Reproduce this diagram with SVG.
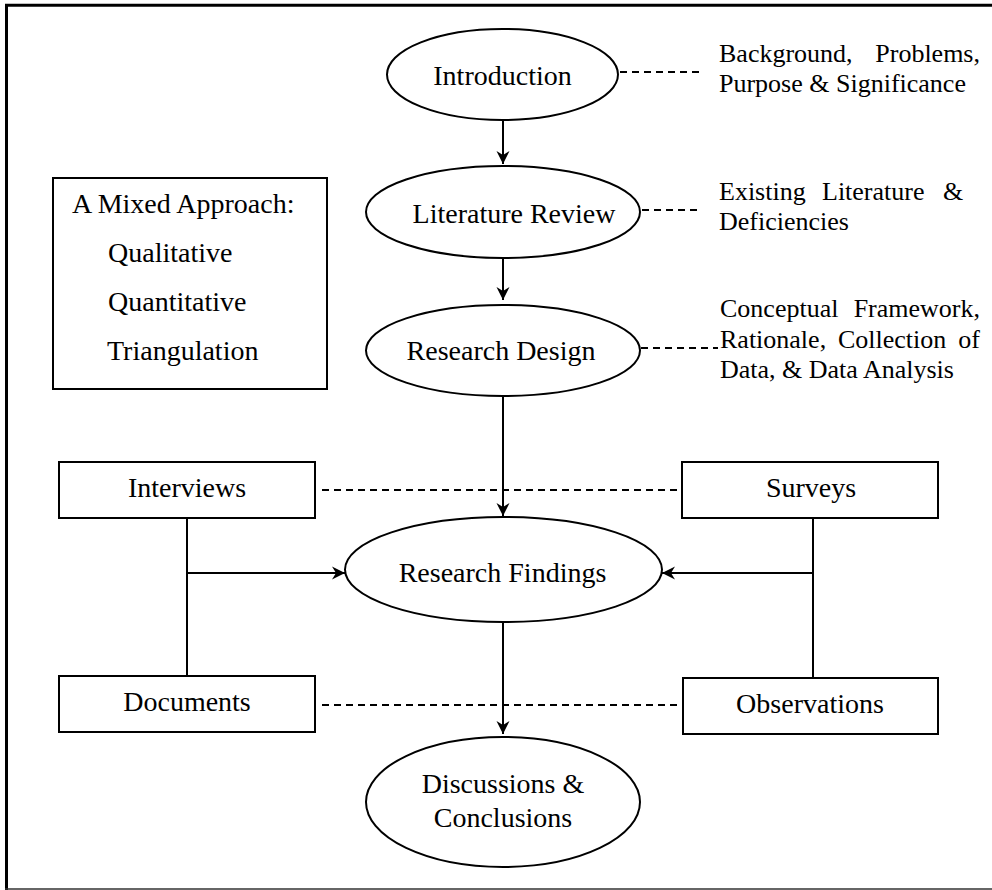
<svg xmlns="http://www.w3.org/2000/svg" width="992" height="890" viewBox="0 0 992 890">
  <defs>
    <style>
      text { font-family: "Liberation Serif", "Times New Roman", serif; fill: #000; }
      .node { font-size: 28px; text-anchor: middle; }
      .note { font-size: 26px; }
      .shape { fill: #fff; stroke: #000; stroke-width: 2; }
      .flow { stroke: #000; stroke-width: 2; fill: none; }
      .link { stroke: #000; stroke-width: 1.8; fill: none; stroke-dasharray: 7 5; }
    </style>
    <marker id="arrow" viewBox="-14 -7 15 14" refX="0" refY="0" markerWidth="15" markerHeight="14" markerUnits="userSpaceOnUse" orient="auto">
      <path d="M0,0 L-13,-6.5 L-9,0 L-13,6.5 Z" fill="#000"/>
    </marker>
  </defs>

  <rect width="992" height="890" fill="#fff"/>

  <!-- page frame -->
  <g id="frame">
    <line x1="5" y1="5.3" x2="992" y2="5.3" stroke="#000" stroke-width="3"/>
    <line x1="6.5" y1="4" x2="6.5" y2="890" stroke="#000" stroke-width="3"/>
    <line x1="5" y1="889" x2="992" y2="889" stroke="#333" stroke-width="1.5"/>
  </g>

  <!-- connectors -->
  <g id="connectors">
    <line class="flow" x1="503" y1="120" x2="503" y2="164" marker-end="url(#arrow)"/>
    <line class="flow" x1="503" y1="258" x2="503" y2="300" marker-end="url(#arrow)"/>
    <line class="flow" x1="503" y1="396" x2="503" y2="516" marker-end="url(#arrow)"/>
    <line class="flow" x1="503" y1="622" x2="503" y2="734" marker-end="url(#arrow)"/>
    <polyline class="flow" points="187,518 187,676"/>
    <polyline class="flow" points="813,518 813,678"/>
    <line class="flow" x1="187" y1="573" x2="345" y2="573" marker-end="url(#arrow)"/>
    <line class="flow" x1="813" y1="573" x2="662" y2="573" marker-end="url(#arrow)"/>
    <line class="link" x1="620" y1="72" x2="703" y2="72"/>
    <line class="link" x1="642" y1="210" x2="702" y2="210"/>
    <line class="link" x1="641" y1="348" x2="718" y2="348"/>
    <line class="link" x1="322" y1="490" x2="682" y2="490"/>
    <line class="link" x1="322" y1="705" x2="683" y2="705"/>
  </g>

  <g id="approach">
    <rect class="shape" x="53" y="178" width="274" height="211"/>
    <text x="72" y="213" font-size="28">A Mixed Approach:</text>
    <text x="108" y="262" font-size="28">Qualitative</text>
    <text x="108" y="311" font-size="28">Quantitative</text>
    <text x="107" y="360" font-size="28">Triangulation</text>
  </g>

  <g id="introduction">
    <ellipse class="shape" cx="502.5" cy="74.5" rx="115.5" ry="45.5"/>
    <text class="node" x="502.5" y="85">Introduction</text>
  </g>

  <g id="literature-review">
    <ellipse class="shape" cx="503" cy="212" rx="137" ry="46"/>
    <text class="node" x="514" y="223">Literature Review</text>
  </g>

  <g id="research-design">
    <ellipse class="shape" cx="503" cy="350.5" rx="137" ry="45.5"/>
    <text class="node" x="501" y="360">Research Design</text>
  </g>

  <g id="research-findings">
    <ellipse class="shape" cx="503.5" cy="569.5" rx="158.5" ry="52.5"/>
    <text class="node" x="502.5" y="582">Research Findings</text>
  </g>

  <g id="discussions">
    <ellipse class="shape" cx="503" cy="802" rx="137" ry="65"/>
    <text class="node" x="503" y="793">Discussions &amp;</text>
    <text class="node" x="503" y="827">Conclusions</text>
  </g>

  <g id="interviews">
    <rect class="shape" x="59" y="462" width="256" height="56"/>
    <text class="node" x="187" y="497">Interviews</text>
  </g>

  <g id="surveys">
    <rect class="shape" x="682" y="462" width="256" height="56"/>
    <text class="node" x="811" y="497">Surveys</text>
  </g>

  <g id="documents">
    <rect class="shape" x="59" y="676" width="256" height="56"/>
    <text class="node" x="187" y="711">Documents</text>
  </g>

  <g id="observations">
    <rect class="shape" x="683" y="678" width="255" height="56"/>
    <text class="node" x="810" y="713">Observations</text>
  </g>

  <!-- notes beside the main stages -->
  <g id="note-introduction" class="note">
    <text x="719" y="62">Background,</text>
    <text x="980" y="62" text-anchor="end">Problems,</text>
    <text x="719" y="92">Purpose &amp; Significance</text>
  </g>

  <g id="note-literature" class="note">
    <text x="719" y="200">Existing</text>
    <text x="822" y="200">Literature</text>
    <text x="943" y="200">&amp;</text>
    <text x="719" y="230">Deficiencies</text>
  </g>

  <g id="note-design" class="note">
    <text x="720" y="317">Conceptual</text>
    <text x="980" y="317" text-anchor="end">Framework,</text>
    <text x="720" y="348">Rationale,</text>
    <text x="838" y="348">Collection</text>
    <text x="980" y="348" text-anchor="end">of</text>
    <text x="720" y="378">Data, &amp; Data Analysis</text>
  </g>
</svg>
